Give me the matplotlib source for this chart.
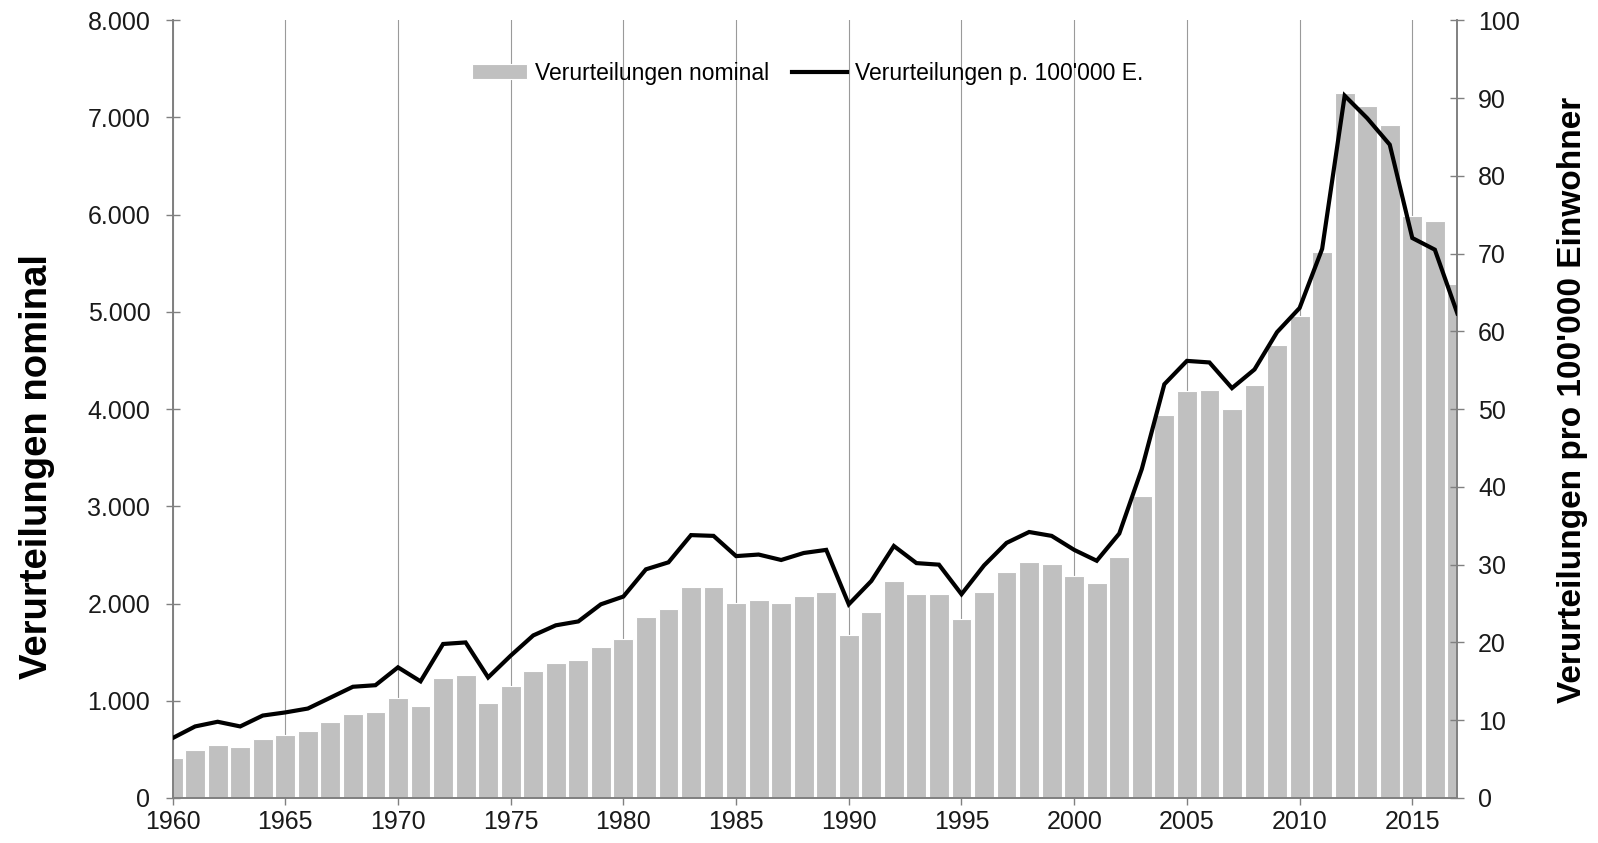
import matplotlib
matplotlib.use("Agg")
import matplotlib.pyplot as plt
from matplotlib.ticker import FuncFormatter, MultipleLocator

plt.rcParams['font.family'] = ['Liberation Sans', 'DejaVu Sans']

YEARS = list(range(1960, 2018))
NOMINAL = [410, 490, 545, 525, 610, 645, 690, 782, 867, 889,
           1026, 943, 1238, 1262, 977, 1152, 1310, 1392, 1420, 1557,
           1636, 1865, 1944, 2167, 2170, 2010, 2034, 2010, 2075, 2119,
           1677, 1910, 2233, 2102, 2100, 1842, 2119, 2325, 2430, 2405,
           2285, 2211, 2481, 3107, 3944, 4185, 4195, 4003, 4244, 4658,
           4953, 5613, 7253, 7115, 6918, 5987, 5933, 5288]
PER_100K = [7.7, 9.2, 9.8, 9.2, 10.6, 11.0, 11.5, 12.9, 14.3, 14.5,
            16.8, 15.0, 19.8, 20.0, 15.5, 18.3, 20.9, 22.2, 22.7, 24.9,
            25.9, 29.4, 30.3, 33.8, 33.7, 31.1, 31.3, 30.6, 31.5, 31.9,
            24.9, 27.9, 32.4, 30.2, 30.0, 26.2, 29.9, 32.8, 34.2, 33.7,
            31.9, 30.5, 34.0, 42.3, 53.2, 56.2, 56.0, 52.7, 55.1, 59.9,
            63.0, 70.6, 90.3, 87.4, 84.0, 72.0, 70.5, 62.3]

LABEL_BARS = "Verurteilungen nominal"
LABEL_LINE = "Verurteilungen p. 100'000 E."
YLABEL_LEFT = "Verurteilungen nominal"
YLABEL_RIGHT = "Verurteilungen pro 100'000 Einwohner"

fig = plt.figure(figsize=(15.98, 8.43), dpi=100)
ax = fig.add_axes([0.108, 0.0534, 0.804, 0.9226])
ax2 = ax.twinx()

spine_col = '#808080'
bars = ax.bar(YEARS, NOMINAL, width=0.88, color='#c0c0c0', edgecolor='white',
              linewidth=0.8, label=LABEL_BARS, zorder=2)
line, = ax2.plot(YEARS, PER_100K, color='black', lw=3, label=LABEL_LINE,
                 solid_joinstyle='miter', zorder=3)

ax.set_xlim(1960, 2017)
ax.set_ylim(0, 8000)
ax2.set_ylim(0, 100)
ax.xaxis.set_major_locator(MultipleLocator(5))
ax.yaxis.set_major_locator(MultipleLocator(1000))
ax2.yaxis.set_major_locator(MultipleLocator(10))
ax.yaxis.set_major_formatter(FuncFormatter(lambda v, p: f"{int(v):,}".replace(",", ".")))

ax.set_axisbelow(True)
ax.grid(axis='x', color='#9a9a9a', lw=0.8)

for a in (ax, ax2):
    a.spines['top'].set_visible(False)
    for s in ('left', 'right', 'bottom'):
        a.spines[s].set_color(spine_col)
        a.spines[s].set_linewidth(1.2)
    a.tick_params(direction='inout', length=10, width=1, color=spine_col,
                  labelsize=18, labelcolor='#1a1a1a')
ax.tick_params(axis='y', pad=11)
ax2.tick_params(axis='y', pad=10)
ax.tick_params(axis='x', pad=4)

fig.text(0.023, 0.447, YLABEL_LEFT, rotation=90, ha='center', va='center',
         fontsize=27.5, fontweight='bold')
fig.text(0.984, 0.526, YLABEL_RIGHT, rotation=90, ha='center', va='center',
         fontsize=24, fontweight='bold')

ax.legend([bars, line], [LABEL_BARS, LABEL_LINE], ncol=2, loc='center',
          bbox_to_anchor=(0.4945, 0.932), frameon=False, fontsize=16.5,
          handlelength=2.4, handleheight=0.6, columnspacing=1.0, handletextpad=0.35)

fig.savefig("out.png", dpi=100)
